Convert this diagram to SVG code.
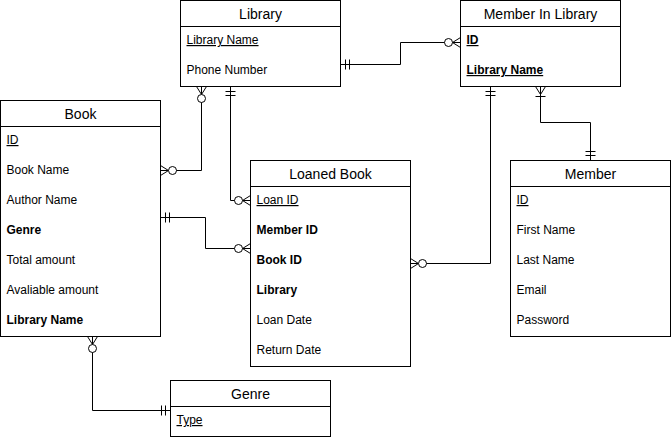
<svg xmlns="http://www.w3.org/2000/svg" width="671" height="440" viewBox="0 0 671 440">
<style>
.box{fill:#fff;stroke:#000;stroke-width:1}
.hd{font-family:"Liberation Sans",Arial,sans-serif;font-size:14px;text-anchor:middle;fill:#000}
.rw{font-family:"Liberation Sans",Arial,sans-serif;font-size:12px;fill:#000}
.b{font-weight:bold}
.u{text-decoration:underline}
.cn{fill:none;stroke:#000;stroke-width:1}
.mk{fill:none;stroke:#000;stroke-width:1}
</style>
<defs>
<marker id="zeroMany" viewBox="0 0 20 20" refX="20" refY="10" markerWidth="20" markerHeight="20" markerUnits="userSpaceOnUse" orient="auto-start-reverse">
<path class="mk" d="M20,5 L12,10 L20,15 M12,10 L20,10"/>
<circle cx="8" cy="10" r="4" fill="#fff" stroke="#000" stroke-width="1"/>
</marker>
<marker id="mandOne" viewBox="0 0 20 20" refX="20" refY="10" markerWidth="20" markerHeight="20" markerUnits="userSpaceOnUse" orient="auto-start-reverse">
<path class="mk" d="M15,5 V15 M11,5 V15"/>
</marker>
<marker id="oneMany" viewBox="0 0 20 20" refX="20" refY="10" markerWidth="20" markerHeight="20" markerUnits="userSpaceOnUse" orient="auto-start-reverse">
<path class="mk" d="M20,5 L12,10 L20,15 M12,10 L20,10 M10,5 V15"/>
</marker>
</defs>
<rect width="671" height="440" fill="#fff"/>
<g id="connectors">
<path class="cn" d="M201.5,86.5 V170.5 H160.5" marker-start="url(#zeroMany)" marker-end="url(#zeroMany)"/>
<path class="cn" d="M230.5,86.5 V200.5 H250.5" marker-start="url(#mandOne)" marker-end="url(#zeroMany)"/>
<path class="cn" d="M340.5,64.5 H400.5 V42.5 H460.5" marker-start="url(#mandOne)" marker-end="url(#zeroMany)"/>
<path class="cn" d="M160.5,217.5 H205.5 V248.5 H250.5" marker-start="url(#mandOne)" marker-end="url(#zeroMany)"/>
<path class="cn" d="M410.5,263.5 H490.5 V86.5" marker-start="url(#zeroMany)" marker-end="url(#mandOne)"/>
<path class="cn" d="M540.5,86.5 V122.5 H590.5 V160.5" marker-start="url(#oneMany)" marker-end="url(#mandOne)"/>
<path class="cn" d="M92.5,336.5 V410.5 H170.5" marker-start="url(#zeroMany)" marker-end="url(#mandOne)"/>
</g>
<g id="library">
<rect class="box" x="180.5" y="0.5" width="160" height="86"/>
<line class="box" x1="180.5" y1="26.5" x2="340.5" y2="26.5"/>
<text class="hd" x="260.5" y="18.5">Library</text>
<text class="rw u" x="186.5" y="44">Library Name</text>
<text class="rw" x="186.5" y="74">Phone Number</text>
</g>
<g id="member-in-library">
<rect class="box" x="460.5" y="0.5" width="160" height="86"/>
<line class="box" x1="460.5" y1="26.5" x2="620.5" y2="26.5"/>
<text class="hd" x="540.5" y="18.5">Member In Library</text>
<text class="rw b u" x="466.5" y="44">ID</text>
<text class="rw b u" x="466.5" y="74">Library Name</text>
</g>
<g id="book">
<rect class="box" x="0.5" y="100.5" width="160" height="236"/>
<line class="box" x1="0.5" y1="126.5" x2="160.5" y2="126.5"/>
<text class="hd" x="80.5" y="118.5">Book</text>
<text class="rw u" x="6.5" y="144">ID</text>
<text class="rw" x="6.5" y="174">Book Name</text>
<text class="rw" x="6.5" y="204">Author Name</text>
<text class="rw b" x="6.5" y="234">Genre</text>
<text class="rw" x="6.5" y="264">Total amount</text>
<text class="rw" x="6.5" y="294">Avaliable amount</text>
<text class="rw b" x="6.5" y="324">Library Name</text>
</g>
<g id="loaned-book">
<rect class="box" x="250.5" y="160.5" width="160" height="206"/>
<line class="box" x1="250.5" y1="186.5" x2="410.5" y2="186.5"/>
<text class="hd" x="330.5" y="178.5">Loaned Book</text>
<text class="rw u" x="256.5" y="204">Loan ID</text>
<text class="rw b" x="256.5" y="234">Member ID</text>
<text class="rw b" x="256.5" y="264">Book ID</text>
<text class="rw b" x="256.5" y="294">Library</text>
<text class="rw" x="256.5" y="324">Loan Date</text>
<text class="rw" x="256.5" y="354">Return Date</text>
</g>
<g id="member">
<rect class="box" x="510.5" y="160.5" width="160" height="176"/>
<line class="box" x1="510.5" y1="186.5" x2="670.5" y2="186.5"/>
<text class="hd" x="590.5" y="178.5">Member</text>
<text class="rw u" x="516.5" y="204">ID</text>
<text class="rw" x="516.5" y="234">First Name</text>
<text class="rw" x="516.5" y="264">Last Name</text>
<text class="rw" x="516.5" y="294">Email</text>
<text class="rw" x="516.5" y="324">Password</text>
</g>
<g id="genre">
<rect class="box" x="170.5" y="380.5" width="160" height="56"/>
<line class="box" x1="170.5" y1="406.5" x2="330.5" y2="406.5"/>
<text class="hd" x="250.5" y="398.5">Genre</text>
<text class="rw u" x="176.5" y="424">Type</text>
</g>
</svg>
